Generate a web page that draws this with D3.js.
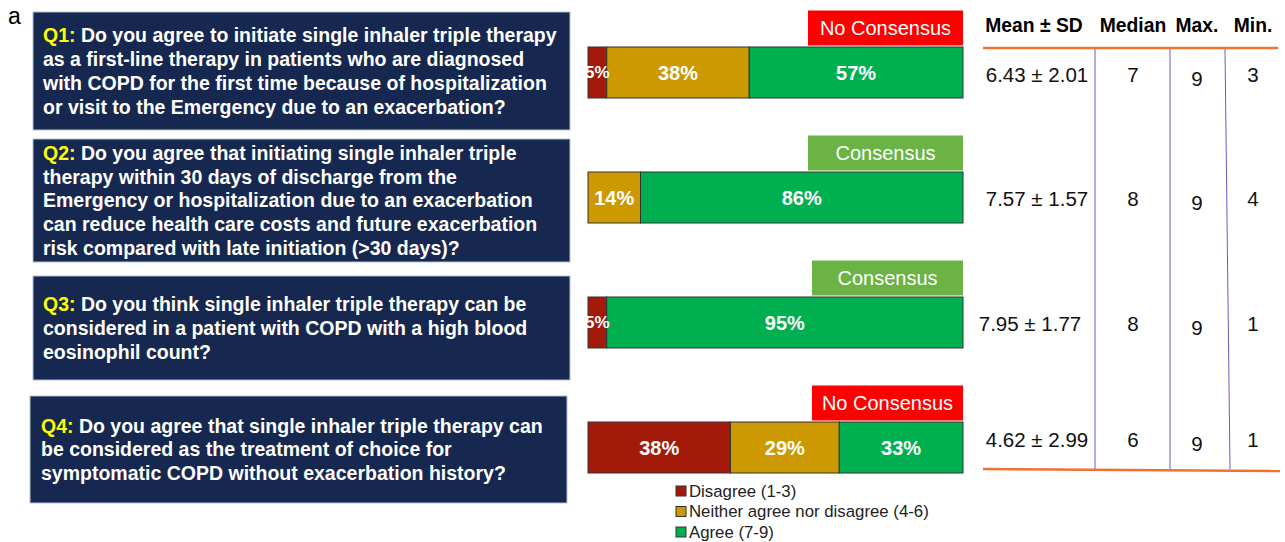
<!DOCTYPE html>
<html>
<head>
<meta charset="utf-8">
<script src="https://cdn.jsdelivr.net/npm/d3@7"></script>
<style>
  body { margin: 0; background: #fff; }
  svg { font-family: "Liberation Sans", Arial, sans-serif; }
</style>
</head>
<body>
<div id="chart"></div>
<script>
// ---- data ----
var questionIds = ["Q1", "Q2", "Q3", "Q4"];
var questionLines = [
    ["Do you agree to initiate single inhaler triple therapy",
     "as a first-line therapy in patients who are diagnosed",
     "with COPD for the first time because of hospitalization",
     "or visit to the Emergency due to an exacerbation?"],
    ["Do you agree that initiating single inhaler triple",
     "therapy within 30 days of discharge from the",
     "Emergency or hospitalization due to an exacerbation",
     "can reduce health care costs and future exacerbation",
     "risk compared with late initiation (>30 days)?"],
    ["Do you think single inhaler triple therapy can be",
     "considered in a patient with COPD with a high blood",
     "eosinophil count?"],
    ["Do you agree that single inhaler triple therapy can",
     "be considered as the treatment of choice for",
     "symptomatic COPD without exacerbation history?"]
];
var disagree = [5, 0, 5, 38];
var neutral = [38, 14, 0, 29];
var agree = [57, 86, 95, 33];
var consensus = ["No Consensus", "Consensus", "Consensus", "No Consensus"];
var means = ["6.43", "7.57", "7.95", "4.62"];
var sds = ["2.01", "1.57", "1.77", "2.99"];
var medians = [7, 8, 8, 6];
var maxs = [9, 9, 9, 9];
var mins = [3, 4, 1, 1];
var seriesNames = ["Disagree (1-3)", "Neither agree nor disagree (4-6)", "Agree (7-9)"];
var headers = ["Mean \u00b1 SD", "Median", "Max.", "Min."];

// ---- layout ----
var W = 1285, H = 542;
var colors = ["#a31a0b", "#cc9900", "#00b050"];
var badgeColor = { "No Consensus": "#ff0000", "Consensus": "#6ab344" };
var boxHeights = [118, 123, 104, 107];
var boxShift = [-1.5, 3, 5.5, 2];

var svg = d3.select("#chart").append("svg")
    .attr("width", W)
    .attr("height", H);

var yScale = d3.scalePoint()
    .domain(questionIds)
    .range([72.5, 447.5]);

var xScale = d3.scaleLinear()
    .domain([0, 100])
    .range([588, 963]);

svg.append("text")
    .attr("x", 8)
    .attr("y", 24)
    .attr("font-size", 23)
    .text("a");

// question boxes
var q = svg.selectAll("g.question")
    .data(questionIds)
    .enter()
    .append("g")
    .attr("class", "question");

q.append("rect")
    .attr("x", function(d, i) { return i == 3 ? 30 : 33; })
    .attr("width", 537)
    .attr("y", function(d, i) { return yScale(d) + boxShift[i] - boxHeights[i] / 2; })
    .attr("height", function(d, i) { return boxHeights[i]; })
    .attr("fill", "#172850")
    .attr("stroke", "#b8c0d0")
    .attr("stroke-width", 1);

q.each(function(d, i) {
    var g = d3.select(this);
    var lines = questionLines[i];
    var lh = 23.8;
    var cy = yScale(d) + boxShift[i];
    var x0 = i == 3 ? 41 : 43;
    lines.forEach(function(line, j) {
        var t = g.append("text")
            .attr("x", x0)
            .attr("y", cy + (j - (lines.length - 1) / 2) * lh)
            .attr("dy", "0.35em")
            .attr("font-size", 19.5)
            .attr("font-weight", "bold")
            .attr("fill", "#fff");
        if (j == 0) {
            t.append("tspan").attr("fill", "#ffff00").text(d + ":");
            t.append("tspan").text(" " + line);
        } else {
            t.text(line);
        }
    });
});

// stacked bars
var rows = questionIds.map(function(id, i) {
    return { id: id, vals: [disagree[i], neutral[i], agree[i]] };
});

var barH = 51;

rows.forEach(function(r) {
    var start = 0;
    var segs = r.vals.map(function(v, k) {
        var s = { id: r.id, k: k, x0: start, x1: start + v, v: v };
        start += v;
        return s;
    }).filter(function(s) { return s.v > 0; });

    var g = svg.append("g");
    g.selectAll("rect")
        .data(segs)
        .enter()
        .append("rect")
        .attr("x", function(s) { return xScale(s.x0); })
        .attr("width", function(s) { return xScale(s.x1) - xScale(s.x0); })
        .attr("y", yScale(r.id) - barH / 2)
        .attr("height", barH)
        .attr("fill", function(s) { return colors[s.k]; })
        .attr("stroke", "#333")
        .attr("stroke-width", 1);

    g.selectAll("text")
        .data(segs)
        .enter()
        .append("text")
        .attr("x", function(s) { return (xScale(s.x0) + xScale(s.x1)) / 2; })
        .attr("y", yScale(r.id))
        .attr("dy", "0.35em")
        .attr("text-anchor", "middle")
        .attr("font-size", function(s) { return s.v < 10 ? 17 : 20; })
        .attr("font-weight", "bold")
        .attr("fill", "#fff")
        .text(function(s) { return s.v + "%"; });
});

// consensus badges
var badges = svg.selectAll("g.badge")
    .data(questionIds)
    .enter()
    .append("g")
    .attr("class", "badge");

badges.append("rect")
    .attr("x", function(d, i) { return i < 2 ? 808 : 812; })
    .attr("width", function(d, i) { return i < 2 ? 155 : 151; })
    .attr("y", function(d) { return yScale(d) - 62; })
    .attr("height", 35)
    .attr("fill", function(d, i) { return badgeColor[consensus[i]]; });

badges.append("text")
    .attr("x", function(d, i) { return i < 2 ? 885.5 : 887.5; })
    .attr("y", function(d) { return yScale(d) - 44.5; })
    .attr("dy", "0.35em")
    .attr("text-anchor", "middle")
    .attr("font-size", 20)
    .attr("fill", "#fff")
    .text(function(d, i) { return consensus[i]; });

// stats table
var colX = [1034, 1133, 1197, 1253];
svg.selectAll("text.header")
    .data(headers)
    .enter()
    .append("text")
    .attr("class", "header")
    .attr("x", function(d, i) { return colX[i]; })
    .attr("y", 25)
    .attr("dy", "0.35em")
    .attr("text-anchor", "middle")
    .attr("font-size", 19.3)
    .attr("font-weight", "bold")
    .text(function(d) { return d; });

svg.append("line")
    .attr("x1", 983).attr("x2", 1278)
    .attr("y1", 48).attr("y2", 48)
    .attr("stroke", "#f07030").attr("stroke-width", 2.5);
svg.append("line")
    .attr("x1", 983).attr("x2", 1280)
    .attr("y1", 469).attr("y2", 471)
    .attr("stroke", "#f07030").attr("stroke-width", 2.5);

var vlines = [[1095, 1095], [1170, 1170], [1225, 1230]];
svg.selectAll("line.sep")
    .data(vlines)
    .enter()
    .append("line")
    .attr("class", "sep")
    .attr("x1", function(d) { return d[0]; })
    .attr("x2", function(d) { return d[1]; })
    .attr("y1", 49)
    .attr("y2", 469)
    .attr("stroke", "#6a5acd")
    .attr("stroke-width", 1);

var rowOffset = [2, 1, 1, -8];
questionIds.forEach(function(id, i) {
    var y = yScale(id) + rowOffset[i];
    var cells = [means[i] + " \u00b1 " + sds[i], medians[i], maxs[i], mins[i]];
    var dyCell = [0, 0, 4, 0];
    svg.selectAll("text.cell" + i)
        .data(cells)
        .enter()
        .append("text")
        .attr("x", function(d, k) { return colX[k] + (k == 0 && i == 2 ? -4 : 3 * (k == 0)); })
        .attr("y", function(d, k) { return y + dyCell[k]; })
        .attr("dy", "0.35em")
        .attr("text-anchor", "middle")
        .attr("font-size", 20.5)
        .attr("fill", "#111")
        .text(function(d) { return d; });
});

// legend
var legend = svg.selectAll("g.legend")
    .data(seriesNames)
    .enter()
    .append("g")
    .attr("class", "legend")
    .attr("transform", function(d, i) { return "translate(676," + (491 + i * 20.5) + ")"; });

legend.append("rect")
    .attr("x", 0).attr("y", -5)
    .attr("width", 10).attr("height", 10)
    .attr("fill", function(d, i) { return colors[i]; })
    .attr("stroke", "#333");

legend.append("text")
    .attr("x", 13)
    .attr("dy", "0.35em")
    .attr("font-size", 16.8)
    .attr("fill", "#222")
    .text(function(d) { return d; });
</script>
</body>
</html>
